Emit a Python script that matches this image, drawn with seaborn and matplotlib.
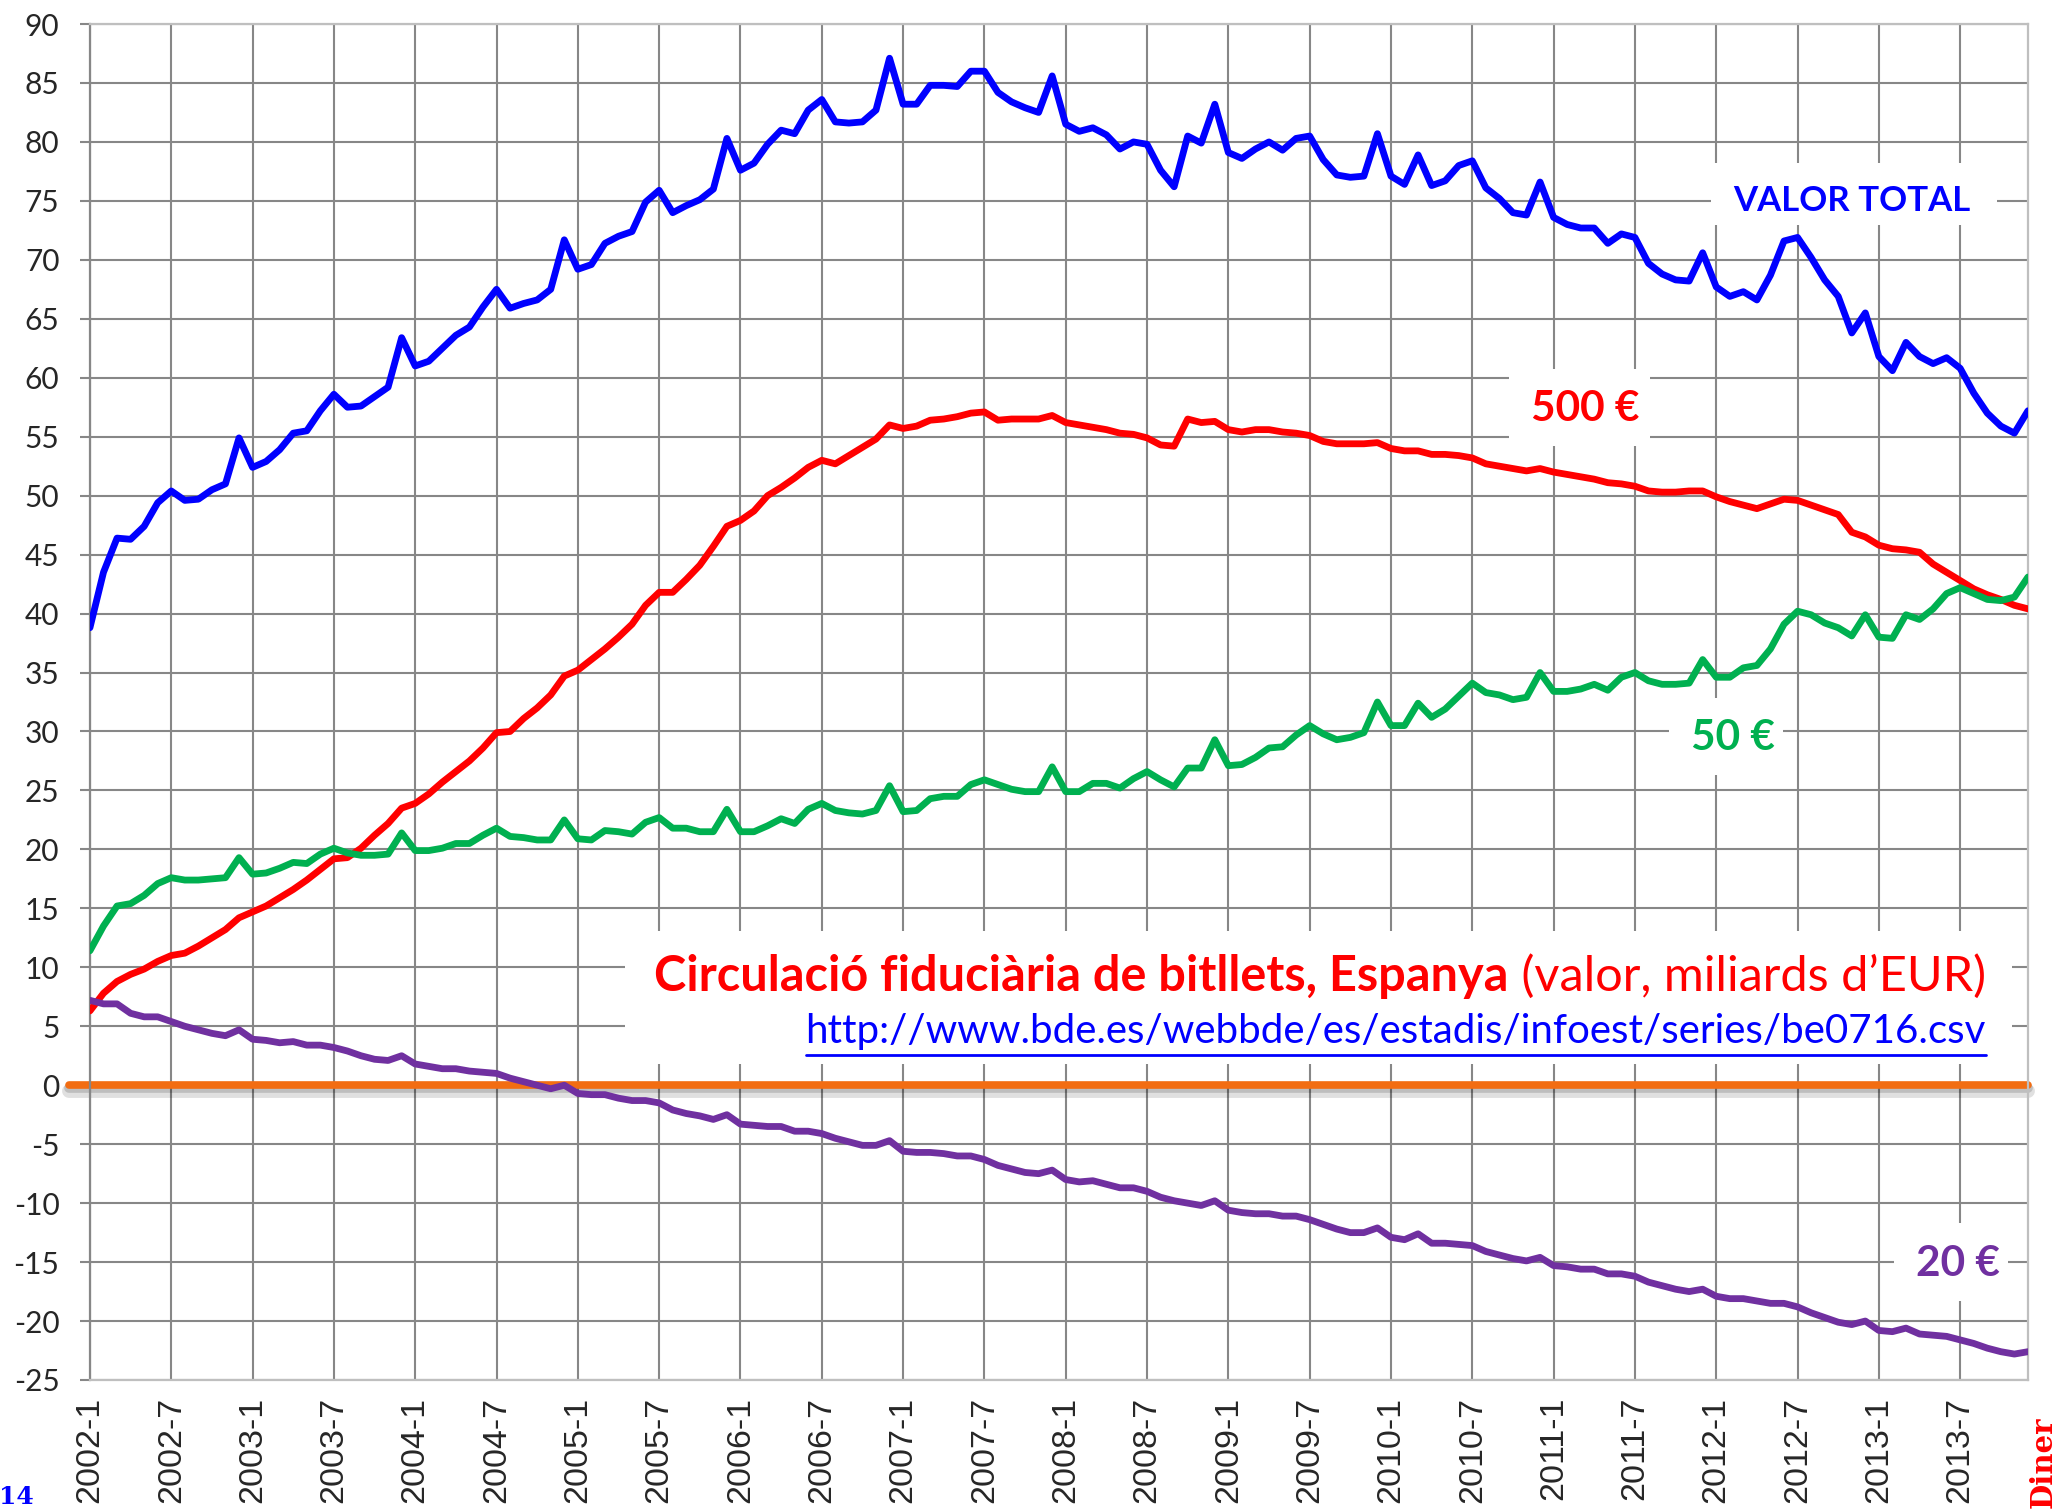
import matplotlib
matplotlib.use("Agg")
import matplotlib.pyplot as plt
import matplotlib.patheffects as pe
from matplotlib.patches import Rectangle
import seaborn as sns
import pandas as pd

# Mesos: 2002-1 ... 2013-12
meses = [f"{y}-{m}" for y in range(2002, 2014) for m in range(1, 13)]
etiquetes_x = meses[::6]
etiquetes_y = list(range(-25, 95, 5))

# Valor total de bitllets en circulacio (miliards EUR)
valor_total = [
    38.8, 43.5, 46.4, 46.3, 47.4, 49.4, 50.4, 49.6, 49.7, 50.5,
    51.0, 54.9, 52.4, 52.9, 53.9, 55.3, 55.5, 57.2, 58.6, 57.5,
    57.6, 58.4, 59.2, 63.4, 61.0, 61.4, 62.5, 63.6, 64.3, 66.0,
    67.5, 65.9, 66.3, 66.6, 67.5, 71.7, 69.2, 69.6, 71.4, 72.0,
    72.4, 74.9, 75.9, 74.0, 74.6, 75.1, 76.0, 80.3, 77.6, 78.2,
    79.8, 81.0, 80.7, 82.7, 83.6, 81.7, 81.6, 81.7, 82.7, 87.1,
    83.2, 83.2, 84.8, 84.8, 84.7, 86.0, 86.0, 84.2, 83.4, 82.9,
    82.5, 85.6, 81.5, 80.9, 81.2, 80.6, 79.4, 80.0, 79.8, 77.6,
    76.2, 80.5, 79.9, 83.2, 79.1, 78.6, 79.4, 80.0, 79.3, 80.3,
    80.5, 78.5, 77.2, 77.0, 77.1, 80.7, 77.1, 76.4, 78.9, 76.3,
    76.7, 78.0, 78.4, 76.1, 75.2, 74.0, 73.8, 76.6, 73.6, 73.0,
    72.7, 72.7, 71.4, 72.2, 71.9, 69.7, 68.8, 68.3, 68.2, 70.6,
    67.7, 66.9, 67.3, 66.6, 68.7, 71.6, 71.9, 70.2, 68.3, 66.9,
    63.8, 65.5, 61.8, 60.6, 63.0, 61.8, 61.2, 61.7, 60.8, 58.7,
    57.0, 55.9, 55.3, 57.2,
]

# Bitllets de 500 EUR
b500 = [
    6.3, 7.8, 8.8, 9.4, 9.85, 10.5, 11.0, 11.2, 11.8, 12.5,
    13.2, 14.2, 14.7, 15.2, 15.9, 16.6, 17.4, 18.3, 19.2, 19.3,
    20.1, 21.2, 22.2, 23.5, 23.9, 24.7, 25.7, 26.6, 27.5, 28.6,
    29.9, 30.0, 31.1, 32.0, 33.1, 34.7, 35.2, 36.1, 37.0, 38.0,
    39.1, 40.7, 41.8, 41.8, 42.9, 44.1, 45.7, 47.4, 47.9, 48.7,
    50.0, 50.7, 51.5, 52.4, 53.0, 52.7, 53.4, 54.1, 54.8, 56.0,
    55.7, 55.9, 56.4, 56.5, 56.7, 57.0, 57.1, 56.4, 56.5, 56.5,
    56.5, 56.8, 56.2, 56.0, 55.8, 55.6, 55.3, 55.2, 54.9, 54.3,
    54.2, 56.5, 56.2, 56.3, 55.6, 55.4, 55.6, 55.6, 55.4, 55.3,
    55.1, 54.6, 54.4, 54.4, 54.4, 54.5, 54.0, 53.8, 53.8, 53.5,
    53.5, 53.4, 53.2, 52.7, 52.5, 52.3, 52.1, 52.3, 52.0, 51.8,
    51.6, 51.4, 51.1, 51.0, 50.8, 50.4, 50.3, 50.3, 50.4, 50.4,
    49.9, 49.5, 49.2, 48.9, 49.3, 49.7, 49.6, 49.2, 48.8, 48.4,
    46.9, 46.5, 45.8, 45.5, 45.4, 45.2, 44.2, 43.5, 42.8, 42.1,
    41.6, 41.2, 40.7, 40.4,
]

# Bitllets de 50 EUR
b50 = [
    11.4, 13.5, 15.2, 15.4, 16.1, 17.1, 17.6, 17.4, 17.4, 17.5,
    17.6, 19.3, 17.9, 18.0, 18.4, 18.9, 18.8, 19.6, 20.1, 19.7,
    19.5, 19.5, 19.6, 21.4, 19.9, 19.9, 20.1, 20.5, 20.5, 21.2,
    21.8, 21.1, 21.0, 20.8, 20.8, 22.5, 20.9, 20.8, 21.6, 21.5,
    21.3, 22.3, 22.7, 21.8, 21.8, 21.5, 21.5, 23.4, 21.5, 21.5,
    22.0, 22.6, 22.2, 23.4, 23.9, 23.3, 23.1, 23.0, 23.3, 25.4,
    23.2, 23.3, 24.3, 24.5, 24.5, 25.5, 25.9, 25.5, 25.1, 24.9,
    24.9, 27.0, 24.9, 24.9, 25.6, 25.6, 25.2, 26.0, 26.6, 25.9,
    25.3, 26.9, 26.9, 29.3, 27.1, 27.2, 27.8, 28.6, 28.7, 29.7,
    30.5, 29.8, 29.3, 29.5, 29.9, 32.5, 30.5, 30.5, 32.4, 31.2,
    31.9, 33.0, 34.1, 33.3, 33.1, 32.7, 32.9, 35.0, 33.4, 33.4,
    33.6, 34.0, 33.5, 34.6, 35.0, 34.3, 34.0, 34.0, 34.1, 36.1,
    34.6, 34.6, 35.4, 35.6, 37.0, 39.1, 40.2, 39.9, 39.2, 38.8,
    38.1, 39.9, 38.0, 37.9, 39.9, 39.5, 40.4, 41.7, 42.2, 41.7,
    41.2, 41.1, 41.4, 43.1,
]

# Bitllets de 20 EUR
b20 = [
    7.2, 6.9, 6.9, 6.1, 5.8, 5.8, 5.4, 5.0, 4.7, 4.4,
    4.2, 4.7, 3.9, 3.8, 3.6, 3.7, 3.4, 3.4, 3.2, 2.9,
    2.5, 2.2, 2.1, 2.5, 1.8, 1.6, 1.4, 1.4, 1.2, 1.1,
    1.0, 0.6, 0.3, 0.0, -0.3, 0.0, -0.7, -0.8, -0.8, -1.1,
    -1.3, -1.3, -1.5, -2.1, -2.4, -2.6, -2.9, -2.5, -3.3, -3.4,
    -3.5, -3.5, -3.9, -3.9, -4.1, -4.5, -4.8, -5.1, -5.1, -4.7,
    -5.6, -5.7, -5.7, -5.8, -6.0, -6.0, -6.3, -6.8, -7.1, -7.4,
    -7.5, -7.2, -8.0, -8.2, -8.1, -8.4, -8.7, -8.7, -9.0, -9.5,
    -9.8, -10.0, -10.2, -9.8, -10.6, -10.8, -10.9, -10.9, -11.1, -11.1,
    -11.4, -11.8, -12.2, -12.5, -12.5, -12.1, -12.9, -13.1, -12.6, -13.4,
    -13.4, -13.5, -13.6, -14.1, -14.4, -14.7, -14.9, -14.6, -15.3, -15.4,
    -15.6, -15.6, -16.0, -16.0, -16.2, -16.7, -17.0, -17.3, -17.5, -17.3,
    -17.9, -18.1, -18.1, -18.3, -18.5, -18.5, -18.8, -19.3, -19.7, -20.1,
    -20.3, -20.0, -20.8, -20.9, -20.6, -21.1, -21.2, -21.3, -21.6, -21.9,
    -22.3, -22.6, -22.8, -22.6,
]

colors = {"VALOR TOTAL": "#0000FF", "500 €": "#FF0000", "50 €": "#00B050", "20 €": "#7030A0"}

sns.set_theme(style="whitegrid")
plt.rcParams["font.family"] = ["Lato", "DejaVu Sans"]

df = pd.DataFrame({"mes": range(len(meses)), "VALOR TOTAL": valor_total,
                   "500 €": b500, "50 €": b50, "20 €": b20})
df_long = pd.melt(df, id_vars=["mes"], var_name="serie", value_name="valor")

fig = plt.figure(figsize=(20.58, 15.11), dpi=100)
ax = fig.add_axes([0.0437, 0.0867, 0.9417, 0.8974])

sns.lineplot(data=df_long, x="mes", y="valor", hue="serie", palette=colors,
             linewidth=4.9, legend=False, ax=ax, zorder=3)

ax.set_xlim(0, len(meses) - 1)
ax.set_ylim(-25, 90)
ax.set_xticks(range(0, len(meses), 6))
ax.set_xticklabels(etiquetes_x, rotation=90, fontsize=24.5, family="Liberation Sans")
ax.set_yticks(etiquetes_y)
ax.set_yticklabels([str(v) for v in etiquetes_y], fontsize=21.5)
ax.set_xlabel("")
ax.set_ylabel("")
ax.grid(True, color="#878787", linewidth=1.5)
ax.set_axisbelow(True)
ax.set_facecolor("white")
for s in ax.spines.values():
    s.set_color("#BFBFBF")
    s.set_linewidth(1.6)
ax.spines["left"].set_color("#878787")
ax.tick_params(axis="y", length=7, width=1.5, color="#878787", pad=15, left=True)
ax.tick_params(axis="x", length=0, pad=12)

# linia del zero amb ombra
ax.axhline(0, xmin=-0.011, xmax=1.0, color="#F26D12", linewidth=5.5, zorder=2.5, clip_on=False,
           path_effects=[pe.SimpleLineShadow(offset=(0, -4), shadow_color="black", alpha=0.12, linewidth=10),
                         pe.SimpleLineShadow(offset=(0, -2), shadow_color="black", alpha=0.15, linewidth=7),
                         pe.Normal()])

# caixes blanques darrere dels textos
caixes = [(119.6, 72.97, 21.1, 5.23), (104.7, 54.2, 10.4, 6.55),
          (116.5, 26.3, 8.4, 6.55), (133.1, -18.3, 8.4, 6.6),
          (39.5, 1.8, 102.3, 11.26)]
for (x0, y0, w, h) in caixes:
    ax.add_patch(Rectangle((x0, y0), w, h, facecolor="white", edgecolor="none", zorder=1))

ax.text(130.0, 75.0, "VALOR TOTAL", color="#0000FF", fontsize=25, fontweight="bold",
        ha="center", va="center", zorder=4)
ax.text(110.3, 57.35, "500 €", color="#FF0000", fontsize=30.5, fontweight="bold",
        ha="center", va="center", zorder=4)
ax.text(121.2, 29.45, "50 €", color="#00B050", fontsize=30.5, fontweight="bold",
        ha="center", va="center", zorder=4)
ax.text(137.8, -15.2, "20 €", color="#7030A0", fontsize=30.5, fontweight="bold",
        ha="center", va="center", zorder=4)

# titol en dues parts
fig.canvas.draw()
r = fig.canvas.get_renderer()
t2 = ax.text(139.9, 8.0, " (valor, miliards d’EUR)", color="#FF0000", fontsize=35,
             ha="right", va="baseline", zorder=4)
bb = t2.get_window_extent(r)
xl = ax.transData.inverted().transform((bb.x0, bb.y0))[0]
ax.text(xl, 8.0, "Circulació fiduciària de bitllets, Espanya", color="#FF0000", fontsize=35,
        fontweight="bold", ha="right", va="baseline", zorder=4)

url = "http://www.bde.es/webbde/es/estadis/infoest/series/be0716.csv"
t3 = ax.text(139.9, 3.6, url, color="#0000FF", fontsize=29, ha="right", va="baseline", zorder=4)
bb3 = t3.get_window_extent(r)
inv = ax.transData.inverted()
ux0 = inv.transform((bb3.x0, bb3.y0))[0]
ux1 = inv.transform((bb3.x1, bb3.y0))[0]
ax.plot([ux0, ux1], [2.6, 2.6], color="#0000FF", linewidth=2.0, zorder=4)

# restes de la pagina original
fig.text(34 / 2058, 1 - 1509 / 1511, "14", color="#0000FF", fontsize=18, fontweight="bold",
         family="DejaVu Serif", ha="right", va="bottom")
fig.text(2029 / 2058, 1 - 1508 / 1511, "Diner", color="#FF0000", fontsize=21, fontweight="bold",
         family="DejaVu Serif", rotation=90, ha="left", va="bottom")

fig.savefig("out.png", dpi=100)
